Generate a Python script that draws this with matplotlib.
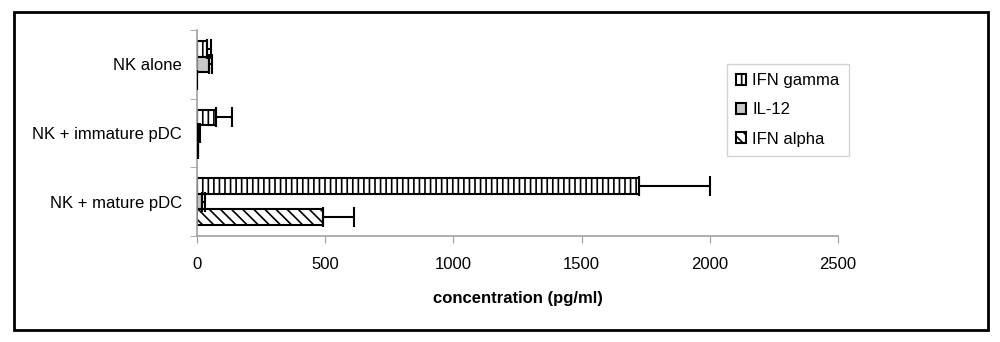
import numpy as np
import matplotlib
matplotlib.use("Agg")
import matplotlib.pyplot as plt
from matplotlib.patches import Rectangle

plt.rcParams['font.family'] = ['Liberation Sans', 'DejaVu Sans']
plt.rcParams['hatch.linewidth'] = 1.2

groups = ['NK alone', 'NK + immature pDC', 'NK + mature pDC']
series = ['IFN gamma', 'IL-12', 'IFN alpha']
ifn_gamma = [38, 73, 1725]
ifn_gamma_err = [15, 62, 277]
il12 = [47, 5, 20]
il12_err = [11, 8, 11]
ifn_alpha = [0, 2, 492]
ifn_alpha_err = [0, 3, 120]

values = [ifn_gamma, il12, ifn_alpha]
errors = [ifn_gamma_err, il12_err, ifn_alpha_err]
fills = ['white', '#c8c8c8', 'white']
hatches = ['|||', '', '\\\\\\']

fig = plt.figure(figsize=(10, 3.42), dpi=100)
ax = fig.add_axes([0.197, 0.31, 0.641, 0.602])

y = np.arange(len(groups))
h = 0.228
for i in range(3):
    pos = y + (i - 1) * h
    ax.barh(pos, values[i], height=h, color=fills[i], edgecolor='black',
            linewidth=1.5, hatch=hatches[i], label=series[i], zorder=2)
    err = np.array(errors[i])
    ax.errorbar(values[i], pos, xerr=[np.zeros_like(err), err], fmt='none',
                ecolor='black', elinewidth=1.5, capsize=7.5, capthick=1.5, zorder=3)

ax.set_xlim(0, 2500)
ax.set_ylim(2.5, -0.5)
ax.set_xticks([0, 500, 1000, 1500, 2000, 2500])
ax.set_yticks(y)
ax.set_yticklabels(groups)
ax.set_yticks([-0.5, 0.5, 1.5, 2.5], minor=True)
ax.tick_params(axis='y', which='major', length=0, pad=11, labelsize=12)
ax.tick_params(axis='y', which='minor', length=5, color='#a0a0a0')
ax.tick_params(axis='x', length=5, color='#a0a0a0', pad=10, labelsize=12)
for s in ['top', 'right']:
    ax.spines[s].set_visible(False)
for s in ['left', 'bottom']:
    ax.spines[s].set_color('#a0a0a0')
    ax.spines[s].set_linewidth(1.2)

ax.set_xlabel('concentration (pg/ml)', fontsize=12, fontweight='bold', labelpad=14)

leg = ax.legend(loc='upper left', bbox_to_anchor=(0.827, 0.835), fontsize=12,
                frameon=True, fancybox=False, edgecolor='#c8c8c8',
                handlelength=0.6, handleheight=0.6, handletextpad=0.35,
                labelspacing=0.85, borderpad=0.55, borderaxespad=0)
leg.get_frame().set_linewidth(1.0)

fig.patches.append(Rectangle((0.014, 0.035), 0.974, 0.93, transform=fig.transFigure,
                             fill=False, edgecolor='black', linewidth=2))

fig.savefig('out.png', dpi=100)
